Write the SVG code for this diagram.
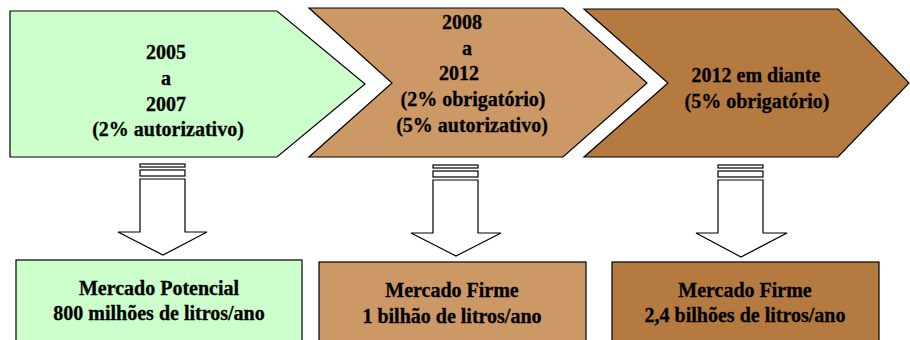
<svg xmlns="http://www.w3.org/2000/svg" width="910" height="340" viewBox="0 0 910 340">
<style>
.s{stroke:#000;stroke-width:1.2;stroke-linejoin:miter}
.t{font-family:'Liberation Serif','Times New Roman','DejaVu Serif',serif;font-weight:700;font-size:20px;fill:#000;stroke:#000;stroke-width:0.3;text-anchor:middle}
.w{fill:#fff;stroke:#000;stroke-width:1.2}
</style>
<rect width="910" height="340" fill="#fff"/>
<g id="phase1">
<polygon class="s" fill="#CCFFCC" points="10,11 277,11 365,84 277,157 10,157"/>
<text class="t" x="166" y="59">2005</text>
<text class="t" x="166" y="85">a</text>
<text class="t" x="166" y="111">2007</text>
<text class="t" x="168" y="136">(2% autorizativo)</text>
</g>
<g id="phase2">
<polygon class="s" fill="#CC9966" points="309,8 563,8 647,83 563,157 309,157 392,83"/>
<text class="t" x="462" y="29">2008</text>
<text class="t" x="467" y="55">a</text>
<text class="t" x="459" y="80">2012</text>
<text class="t" x="473" y="106">(2% obrigatório)</text>
<text class="t" x="472" y="132">(5% autorizativo)</text>
</g>
<g id="phase3">
<polygon class="s" fill="#B47A40" points="584,9 838,9 909,83 838,157 584,157 668,83"/>
<text class="t" x="756" y="82">2012 em diante</text>
<text class="t" x="757" y="108">(5% obrigatório)</text>
</g>
<g id="connectors">
<g id="arrow1">
<rect class="w" x="140" y="164" width="45" height="3"/>
<rect class="w" x="140" y="170" width="45" height="6"/>
<polygon class="w" points="140,179 185,179 185,232 207,232 163,255 118,232 140,232"/>
</g>
<g id="arrow2">
<rect class="w" x="433" y="165" width="45" height="3"/>
<rect class="w" x="433" y="171" width="45" height="6"/>
<polygon class="w" points="433,180 478,180 478,233 501,233 456,256 411,233 433,233"/>
</g>
<g id="arrow3">
<rect class="w" x="718" y="165" width="45" height="3"/>
<rect class="w" x="718" y="171" width="45" height="6"/>
<polygon class="w" points="718,180 763,180 763,233 787,233 741,257 696,233 718,233"/>
</g>
</g>
<g id="market1">
<rect class="s" fill="#CCFFCC" x="16" y="260" width="286" height="84"/>
<text class="t" x="159" y="295">Mercado Potencial</text>
<text class="t" x="159" y="320">800 milhões de litros/ano</text>
</g>
<g id="market2">
<rect class="s" fill="#CC9966" x="319" y="262" width="267" height="82"/>
<text class="t" x="452" y="297">Mercado Firme</text>
<text class="t" x="452" y="323">1 bilhão de litros/ano</text>
</g>
<g id="market3">
<rect class="s" fill="#B47A40" x="612" y="262" width="267" height="82"/>
<text class="t" x="745" y="297">Mercado Firme</text>
<text class="t" x="745" y="322">2,4 bilhões de litros/ano</text>
</g>
</svg>
